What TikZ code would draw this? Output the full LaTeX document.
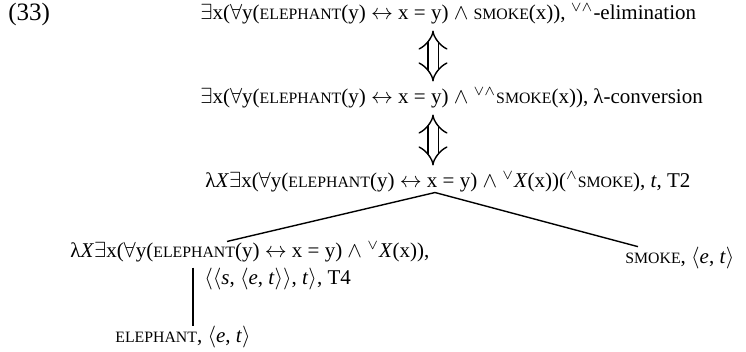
\documentclass[tikz,border=0pt]{standalone}
\usepackage{amsmath}
\usepackage{fontspec}
\setmainfont{Liberation Serif}
\usetikzlibrary{arrows.meta}
\newcommand{\smc}[1]{{\fontsize{7.9pt}{9pt}\selectfont #1}}
\newcommand{\hi}[1]{\ensuremath{^{#1}}}

\begin{document}
\begin{tikzpicture}[x=0.5pt,y=-0.5pt,
		every node/.style={inner sep=0pt, anchor=west, font=\fontsize{10.5pt}{13pt}\selectfont},
		eqv/.style={double, double distance=4.5pt, line width=0.7pt, {Implies}-{Implies}, shorten <=3pt, shorten >=3pt},
		branch/.style={line width=0.7pt}]
				\useasboundingbox (0,0) rectangle (746,352);
				% Example number
				\node[font=\fontsize{12.5pt}{14pt}\selectfont] (num) at (8,14) {(33)};
				% Derivation steps
				\node (s1) at (200,14) {$\exists$x($\forall$y(\smc{ELEPHANT}(y) $\leftrightarrow$ x = y) $\wedge$ \smc{SMOKE}(x)), \hi{\vee\wedge}-elimination};
				\node (s2) at (200,98) {$\exists$x($\forall$y(\smc{ELEPHANT}(y) $\leftrightarrow$ x = y) $\wedge$ \hi{\vee\wedge}\smc{SMOKE}(x)), λ-conversion};
				\node (s3) at (205,182) {λ\textit{X}$\exists$x($\forall$y(\smc{ELEPHANT}(y) $\leftrightarrow$ x = y) $\wedge$ \hi{\vee}\textit{X}(x))(\hi{\wedge}\smc{SMOKE}), \textit{t}, T2};
				% Tree below
				\node (fn) at (70,252) {λ\textit{X}$\exists$x($\forall$y(\smc{ELEPHANT}(y) $\leftrightarrow$ x = y) $\wedge$ \hi{\vee}\textit{X}(x)),};
				\node (fnty) at (204,279) {$\langle\langle$\textit{s}, $\langle$\textit{e}, \textit{t}$\rangle\rangle$, \textit{t}$\rangle$, T4};
				\node (arg) at (625,258) {\smc{SMOKE}, $\langle$\textit{e}, \textit{t}$\rangle$};
				\node (el) at (115,337) {\smc{ELEPHANT}, $\langle$\textit{e}, \textit{t}$\rangle$};
				% Equivalences
				\draw[eqv] (s1.south -| 433,0) -- (s2.north -| 433,0);
				\draw[eqv] (s2.south -| 433,0) -- (s3.north -| 433,0);
				% Branches
				\draw[branch] (s3.south -| 435,0) -- (fn.north -| 227,0);
				\draw[branch] (s3.south -| 435,0) -- (arg.north -| 638,0);
				\draw[branch] (fn.south -| 193,0) ++(0,5) -- (el.north -| 193,0);
			\end{tikzpicture}
\end{document}
